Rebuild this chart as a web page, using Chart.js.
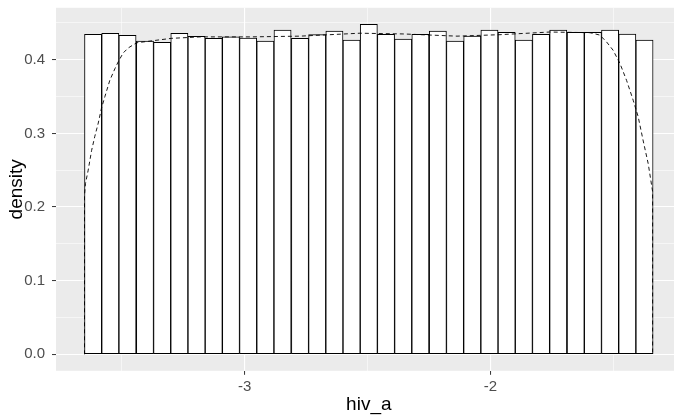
<!DOCTYPE html>
<html>
<head>
<meta charset="utf-8">
<script src="https://cdn.jsdelivr.net/npm/chart.js@4.4.0/dist/chart.umd.min.js"></script>
<style>
  html, body { margin: 0; padding: 0; background: #fff; overflow: hidden; }
  #wrap { width: 690px; height: 418px; }
</style>
</head>
<body>
<div id="wrap"><canvas id="histChart" width="690" height="418"></canvas></div>
<script>
// histogram bins (centres of the 33 bins of hiv_a)
const binCentres = [
  -3.617, -3.547, -3.477, -3.406, -3.336, -3.266, -3.196, -3.126, -3.056, -2.986, -2.916,
  -2.846, -2.775, -2.705, -2.635, -2.565, -2.495, -2.425, -2.355, -2.285, -2.214, -2.144,
  -2.074, -2.004, -1.934, -1.864, -1.794, -1.724, -1.653, -1.583, -1.513, -1.443, -1.373
];
const binDensity = [
  0.4345, 0.4358, 0.4331, 0.4254, 0.4236, 0.4358, 0.4318, 0.4290, 0.4310, 0.4295, 0.4254,
  0.4403, 0.4290, 0.4340, 0.4390, 0.4268, 0.4481, 0.4345, 0.4281, 0.4345, 0.4390, 0.4254,
  0.4322, 0.4403, 0.4372, 0.4268, 0.4345, 0.4403, 0.4372, 0.4372, 0.4403, 0.4349, 0.4268
];

// kernel density estimate (dashed curve), outline closed down to zero at both ends
const kdeX = [
  -3.652, -3.652, -3.648, -3.637, -3.623, -3.610, -3.596, -3.583, -3.569, -3.549, -3.528,
  -3.515, -3.495, -3.474, -3.440, -3.299, -3.181, -2.978, -2.775, -2.531, -2.356, -2.246,
  -2.136, -1.961, -1.758, -1.595, -1.555, -1.528, -1.501, -1.473, -1.446, -1.419, -1.399,
  -1.379, -1.358, -1.340, -1.340
];
const kdeY = [
  0.000, 0.216, 0.232, 0.250, 0.277, 0.296, 0.314, 0.334, 0.350, 0.372, 0.388,
  0.397, 0.409, 0.416, 0.423, 0.429, 0.431, 0.431, 0.432, 0.436, 0.435, 0.4335,
  0.432, 0.434, 0.4376, 0.4367, 0.4335, 0.4244, 0.413, 0.395, 0.372, 0.345, 0.323,
  0.291, 0.259, 0.221, 0.000
];

// axis ticks
const xMajorTicks = [-3, -2];
const xTickLabels = ['-3', '-2'];
const xMinorTicks = [-3.5, -2.5, -1.5];
const yMajorTicks = [0, 0.1, 0.2, 0.3, 0.4];
const yTickLabels = ['0.0', '0.1', '0.2', '0.3', '0.4'];
const yMinorTicks = [0.05, 0.15, 0.25, 0.35, 0.45];

function makeTicks(major, minor) {
  const t = major.map(v => ({ value: v, isMinor: false }))
    .concat(minor.map(v => ({ value: v, isMinor: true })));
  return t.sort((a, b) => a.value - b.value);
}
function labelFor(value, majors, labels) {
  const i = majors.findIndex(m => Math.abs(m - value) < 1e-9);
  return i >= 0 ? labels[i] : '';
}

const panelBg = {
  id: 'panelBg',
  beforeDraw(chart) {
    const a = chart.chartArea;
    const ctx = chart.ctx;
    ctx.save();
    ctx.fillStyle = '#EBEBEB';
    ctx.fillRect(a.left, a.top, a.right - a.left, a.bottom - a.top);
    ctx.restore();
  }
};

const gridStyle = {
  color: '#FFFFFF',
  offset: false,
  lineWidth: c => (c.tick && c.tick.isMinor ? 0.55 : 1.1),
  drawTicks: true,
  tickLength: 4,
  tickWidth: 1,
  tickColor: c => (c.tick && c.tick.isMinor ? 'rgba(0,0,0,0)' : '#333333')
};
const font = 'Liberation Sans, Arial, sans-serif';

new Chart(document.getElementById('histChart').getContext('2d'), {
  type: 'bar',
  data: {
    datasets: [
      {
        type: 'line',
        data: kdeX.map((x, i) => ({ x: x, y: kdeY[i] })),
        borderColor: '#000000',
        borderWidth: 0.9,
        borderDash: [4, 3],
        pointRadius: 0,
        tension: 0,
        fill: false,
        order: 0
      },
      {
        type: 'bar',
        data: binCentres.map((x, i) => ({ x: x, y: binDensity[i] })),
        backgroundColor: '#FFFFFF',
        borderColor: '#000000',
        borderWidth: 1,
        borderSkipped: false,
        barPercentage: 1,
        categoryPercentage: 1,
        order: 1
      }
    ]
  },
  options: {
    responsive: false,
    animation: false,
    layout: { padding: { top: 7.8, right: 8.4, bottom: 0, left: 0 } },
    plugins: { legend: { display: false }, tooltip: { enabled: false } },
    scales: {
      x: {
        type: 'linear',
        offset: false,
        min: -3.768,
        max: -1.222,
        border: { display: false },
        grid: gridStyle,
        afterBuildTicks: s => { s.ticks = makeTicks(xMajorTicks, xMinorTicks); },
        afterFit: s => { s.height = 47.2; s.paddingLeft = 0; s.paddingRight = 0; },
        ticks: {
          autoSkip: false,
          maxRotation: 0,
          padding: 3,
          color: '#4D4D4D',
          font: { family: font, size: 15 },
          callback: v => labelFor(v, xMajorTicks, xTickLabels)
        },
        title: {
          display: true,
          text: 'hiv_a',
          color: '#000000',
          padding: { top: 0, bottom: 1.5 },
          font: { family: font, size: 19 }
        }
      },
      y: {
        min: -0.0224,
        max: 0.4705,
        border: { display: false },
        grid: gridStyle,
        afterBuildTicks: s => { s.ticks = makeTicks(yMajorTicks, yMinorTicks); },
        afterFit: s => { s.width = 56; s.paddingTop = 0; s.paddingBottom = 0; },
        ticks: {
          autoSkip: false,
          padding: 7,
          color: '#4D4D4D',
          font: { family: font, size: 15 },
          callback: v => labelFor(v, yMajorTicks, yTickLabels)
        },
        title: {
          display: true,
          text: 'density',
          color: '#000000',
          padding: { top: 5.4, bottom: 0 },
          font: { family: font, size: 19 }
        }
      }
    }
  },
  plugins: [panelBg]
});
</script>
</body>
</html>
